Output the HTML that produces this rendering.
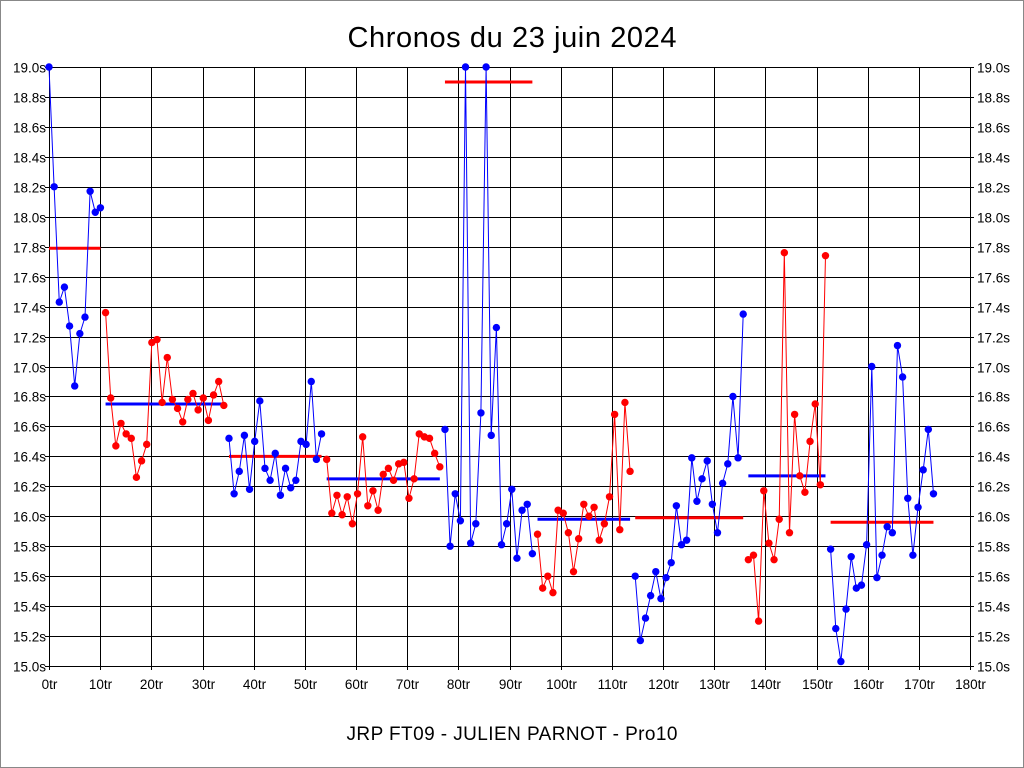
<!DOCTYPE html>
<html><head><meta charset="utf-8">
<style>
html,body{margin:0;padding:0;background:#fff;}
body{width:1024px;height:768px;overflow:hidden;position:relative;font-family:"Liberation Sans",sans-serif;}
#frame{position:absolute;left:0;top:0;width:1022px;height:766px;border:1px solid #888;}
</style></head>
<body>
<div id="frame"></div>
<svg id="chart" width="1024" height="768" style="position:absolute;left:0;top:0" font-family="Liberation Sans, sans-serif">
<text x="512" y="47" text-anchor="middle" font-size="29" textLength="329">Chronos du 23 juin 2024</text>
<text x="512" y="740" text-anchor="middle" font-size="19" textLength="331">JRP FT09 - JULIEN PARNOT - Pro10</text>
<g id="grid"></g><g id="axes"></g><g id="avg"></g><g id="series"></g>
</svg>
<script>
const lapTimes = [19.0,18.2,17.43,17.53,17.27,16.87,17.22,17.33,18.17,18.03,18.06,
17.36,16.79,16.47,16.62,16.55,16.52,16.26,16.37,16.48,17.16,17.18,16.76,17.06,16.78,16.72,16.63,16.78,16.82,16.71,16.79,16.64,16.81,16.90,16.74,
16.52,16.15,16.30,16.54,16.18,16.50,16.77,16.32,16.24,16.42,16.14,16.32,16.19,16.24,16.50,16.48,16.90,16.38,16.55,
16.38,16.02,16.14,16.01,16.13,15.95,16.15,16.53,16.07,16.17,16.04,16.28,16.32,16.24,16.35,16.36,16.12,16.25,16.55,16.53,16.52,16.42,16.33,
16.58,15.80,16.15,15.97,19.0,15.82,15.95,16.69,19.0,16.54,17.26,15.81,15.95,16.18,15.72,16.04,16.08,15.75,
15.88,15.52,15.60,15.49,16.04,16.02,15.89,15.63,15.85,16.08,16.00,16.06,15.84,15.95,16.13,16.68,15.91,16.76,16.30,
15.60,15.17,15.32,15.47,15.63,15.45,15.59,15.69,16.07,15.81,15.84,16.39,16.10,16.25,16.37,16.08,15.89,16.22,16.35,16.80,16.39,17.35,
15.71,15.74,15.30,16.17,15.82,15.71,15.98,17.76,15.89,16.68,16.27,16.16,16.50,16.75,16.21,17.74,
15.78,15.25,15.03,15.38,15.73,15.52,15.54,15.81,17.00,15.59,15.74,15.93,15.89,17.14,16.93,16.12,15.74,16.06,16.31,16.58,16.15];
const segmentStarts = [0,11,35,54,77,95,114,136,152,173];
const segmentAverages = [17.79,16.75,16.40,16.25,18.90,15.98,15.99,16.27,15.96];
const yTicks = [15.0,15.2,15.4,15.6,15.8,16.0,16.2,16.4,16.6,16.8,17.0,17.2,17.4,17.6,17.8,18.0,18.2,18.4,18.6,18.8,19.0];
const xTicks = [0,10,20,30,40,50,60,70,80,90,100,110,120,130,140,150,160,170,180];

const L=49,R=970,T=67,B=666;
const xs=v=>L+(v)*(R-L)/180*1.005;
const ys=v=>B-(v-15)*(B-T)/4;
const NS='http://www.w3.org/2000/svg';
function mk(tag,attrs,parent){const e=document.createElementNS(NS,tag);for(const k in attrs)e.setAttribute(k,attrs[k]);parent.appendChild(e);return e;}
const grid=document.getElementById('grid'),axes=document.getElementById('axes'),avg=document.getElementById('avg'),series=document.getElementById('series');
yTicks.forEach(t=>{
  const y=Math.round(ys(t))+0.5;
  const g=mk('line',{x1:L,x2:R,y1:y,y2:y,stroke:'#000','stroke-width':1},grid);
  
  
  const a=mk('text',{x:L-3,y:y+5,'text-anchor':'end','font-size':13.5},axes);
  a.textContent=t.toFixed(1)+'s';
  
  
  const b=mk('text',{x:R+7,y:y+5,'text-anchor':'start','font-size':13.5},axes);
  b.textContent=t.toFixed(1)+'s';
  
  
  const k1=mk('line',{x1:L-4,x2:L,y1:y,y2:y,stroke:'#000'},axes);
  
  
  const k2=mk('line',{x1:R,x2:R+4,y1:y,y2:y,stroke:'#000'},axes);
  
  
});
xTicks.forEach(t=>{
  const x=Math.round(L+t*(R-L)/180)+0.5;
  const g=mk('line',{x1:x,x2:x,y1:T,y2:B+4,stroke:'#000','stroke-width':1},grid);
  
  
  const a=mk('text',{x:x,y:B+23,'text-anchor':'middle','font-size':13.5},axes);
  a.textContent=t+'tr';
  
  
});
const fr=mk('rect',{x:L+0.5,y:T+0.5,width:R-L,height:B-T,fill:'none',stroke:'#000'},grid);



for(let s=0;s<segmentStarts.length-1;s++){
  const a=segmentStarts[s],b=segmentStarts[s+1];
  const col=s%2===0?'#0000ff':'#ff0000';
  const avgCol=s%2===0?'#ff0000':'#0000ff';
  const ay=ys(segmentAverages[s]);
  const al=mk('line',{x1:xs(a),x2:xs(b-1),y1:ay,y2:ay,stroke:avgCol,'stroke-width':3},avg);
  
  
  let pts=[];
  for(let i=a;i<b;i++)pts.push(xs(i).toFixed(1)+','+ys(lapTimes[i]).toFixed(1));
  const pl=mk('polyline',{points:pts.join(' '),fill:'none',stroke:col,'stroke-width':1},series);
  
  
  for(let i=a;i<b;i++){
    const c=mk('circle',{cx:xs(i),cy:ys(lapTimes[i]),r:3.7,fill:col},series);
    
    
  }
}
</script>
</body></html>
